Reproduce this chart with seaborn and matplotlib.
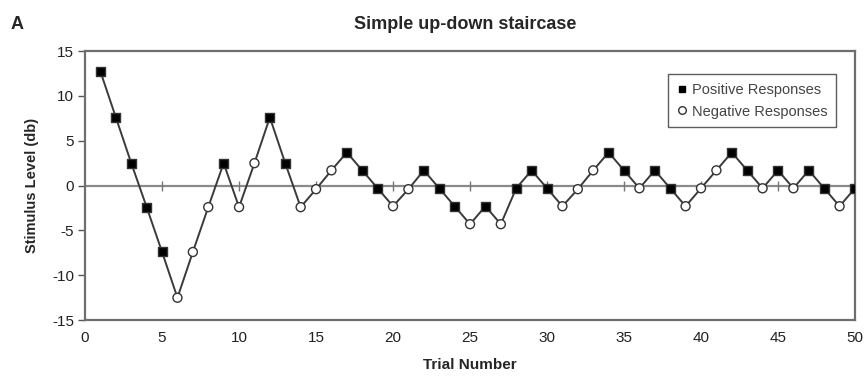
import matplotlib
matplotlib.use("Agg")
import matplotlib.pyplot as plt
from matplotlib.lines import Line2D
import seaborn as sns
import pandas as pd

trials = list(range(1, 51))
levels = [12.7, 7.6, 2.5, -2.4, -7.4, -12.5, -7.4, -2.4, 2.5, -2.4,
          2.5, 7.6, 2.5, -2.4, -0.4, 1.7, 3.7, 1.7, -0.3, -2.3,
          -0.4, 1.7, -0.3, -2.3, -4.3, -2.3, -4.3, -0.3, 1.7, -0.3,
          -2.3, -0.4, 1.7, 3.7, 1.7, -0.3, 1.7, -0.3, -2.3, -0.3,
          1.7, 3.7, 1.7, -0.3, 1.7, -0.3, 1.7, -0.3, -2.3, -0.3]
responses = list("PPPPPNNNPNNPPNNNPPPNNPPPNPNPPPNNNPPNPPNNNPPNPNPPNP")
response_names = {"P": "Positive Responses", "N": "Negative Responses"}
x_ticks = [0, 5, 10, 15, 20, 25, 30, 35, 40, 45, 50]
y_ticks = [-15, -10, -5, 0, 5, 10, 15]

df = pd.DataFrame({"Trial": trials, "Level": levels,
                   "Response": [response_names[r] for r in responses]})

sns.set_style("white")
plt.rcParams["font.family"] = ["Liberation Sans", "DejaVu Sans"]
plt.rcParams["axes.unicode_minus"] = False

fig = plt.figure(figsize=(8.68, 3.78), dpi=100)
ax = fig.add_axes([0.098, 0.153, 0.887, 0.712])

# zero reference line with minor crossing ticks
ax.axhline(0, color="#8a8a8a", lw=1.6, zorder=1)
ax.scatter(x_ticks[1:-1], [0] * (len(x_ticks) - 2), marker="|", s=60,
           color="#777777", linewidths=1.0, zorder=1)

sns.lineplot(data=df, x="Trial", y="Level", color="#3a3a3a", lw=1.4,
             ax=ax, zorder=2)
sns.scatterplot(data=df, x="Trial", y="Level", hue="Response", style="Response",
                palette={"Positive Responses": "black", "Negative Responses": "white"},
                markers={"Positive Responses": "s", "Negative Responses": "o"},
                s=42, edgecolor="#333333", linewidth=1.0, legend=False,
                ax=ax, zorder=3)

ax.set_xlim(0, 50)
ax.set_ylim(-15, 15)
ax.set_xticks(x_ticks)
ax.set_yticks(y_ticks)
ax.tick_params(axis="y", which="major", left=True, length=5, width=1,
               color="#555555", labelsize=11, labelcolor="#222222", pad=3)
ax.tick_params(axis="x", which="major", bottom=False, labelsize=11,
               labelcolor="#222222", pad=4)
for sp in ax.spines.values():
    sp.set_visible(True)
    sp.set_color("#6e6e6e")
    sp.set_linewidth(1.6)

ax.set_xlabel("Trial Number", fontsize=11, fontweight="bold", labelpad=10)
ax.set_ylabel("Stimulus Level (db)", fontsize=10.5, fontweight="bold", labelpad=9)
fig.text(0.536, 0.935, "Simple up-down staircase", ha="center", va="center",
         fontsize=13, fontweight="bold")
fig.text(0.012, 0.935, "A", ha="left", va="center", fontsize=13, fontweight="bold")

handles = [Line2D([], [], marker="s", color="none", markerfacecolor="black",
                  markeredgecolor="black", markersize=5, label="Positive Responses"),
           Line2D([], [], marker="o", color="none", markerfacecolor="white",
                  markeredgecolor="#333333", markersize=5.5, label="Negative Responses")]
leg = ax.legend(handles=handles, loc="upper right", bbox_to_anchor=(0.985, 0.94),
                fontsize=10.5, frameon=True, fancybox=False, handlelength=0.6,
                handletextpad=0.4, borderpad=0.6, labelspacing=0.5)
leg.get_frame().set_edgecolor("#333333")
leg.get_frame().set_linewidth(1.0)
for t in leg.get_texts():
    t.set_color("#444444")

fig.savefig("out.png", dpi=100)
